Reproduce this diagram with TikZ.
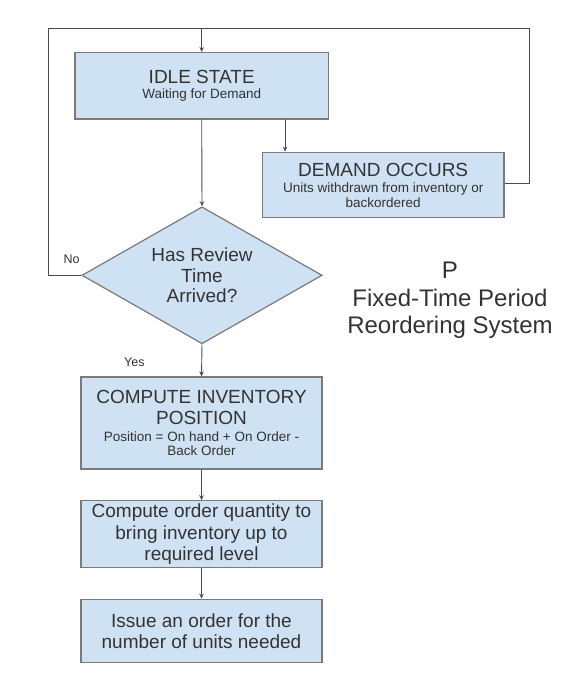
\documentclass[tikz,border=0pt]{standalone}
\usepackage{fontspec}
\setmainfont{Liberation Sans}
\usetikzlibrary{shapes.geometric,arrows.meta}
\definecolor{boxfill}{HTML}{CFE2F3}
\definecolor{boxline}{HTML}{7A7A7A}
\definecolor{lineclr}{HTML}{4D4D4D}
\definecolor{txt}{HTML}{333333}
\newcommand{\fbig}{\fontsize{19}{21.4}\selectfont}
\newcommand{\fsmall}{\fontsize{13.5}{14.5}\selectfont}
\begin{document}
\begin{tikzpicture}[x=1pt,y=-1pt,
  box/.style={draw=boxline, fill=boxfill, line width=1.2pt, rectangle, align=center, text=txt, inner sep=0pt},
  decision/.style={draw=boxline, fill=boxfill, line width=1.2pt, diamond, aspect=1.75, align=center, text=txt, inner sep=0pt},
  arr/.style={draw=lineclr, line width=0.9pt, -{Stealth[length=5pt,width=4.5pt]}},
  conn/.style={draw=lineclr, line width=0.9pt},
  lbl/.style={text=txt, font=\fontsize{12.5}{14}\selectfont, inner sep=0pt}]
\useasboundingbox (0,0) rectangle (582,686);
\fill[white] (0,0) rectangle (582,686);

\node[box, minimum width=253.5pt, minimum height=66.5pt, font=\fontsize{13.5}{15.5}\selectfont] (idle) at (201.7,85.8)
  {{\fbig IDLE STATE}\\{\fsmall Waiting for Demand}};
\node[box, minimum width=241.6pt, minimum height=65.6pt, font=\fsmall] (demand) at (383.2,185)
  {{\fbig DEMAND OCCURS}\\[2pt]{\fsmall Units withdrawn from inventory or}\\{\fsmall backordered}};
\node[decision, minimum width=240.3pt, minimum height=137pt, font=\fontsize{19}{20.8}\selectfont] (review) at (202,275.3)
  {Has Review\\Time\\Arrived?};
\node[box, minimum width=241pt, minimum height=92pt, font=\fsmall] (compute) at (201.5,423)
  {{\fbig COMPUTE INVENTORY}\\[6.9pt]{\fbig POSITION}\\[2.3pt]{\fsmall Position = On hand + On Order -}\\{\fsmall Back Order}};
\node[box, minimum width=241pt, minimum height=67pt, font=\fbig] (order) at (201.5,534.3)
  {Compute order quantity to\\bring inventory up to\\required level};
\node[box, minimum width=241pt, minimum height=63.4pt, font=\fbig] (issue) at (201.5,631)
  {Issue an order for the\\number of units needed};

\node[text=txt, align=center, font=\fontsize{24}{27.3}\selectfont] (title) at (450,300.5)
  {P\\Fixed-Time Period\\Reordering System};

\node[lbl] (no) at (71.6,259) {No};
\node[lbl] (yes) at (134.4,362) {Yes};

\coordinate (top) at (201.7,28.4);
\coordinate (tl) at (48.3,28.4);
\coordinate (tr) at (529,28.4);
\coordinate (dx) at (285,0);
\coordinate (dy) at (0,183.7);

\draw[arr] (demand.east |- dy) -- (tr |- dy) -- (tr) -- (top) -- (idle.north);
\draw[conn] (review.west) -- (tl |- review.west) -- (tl) -- (top);
\draw[arr] (idle.south -| dx) -- (demand.north -| dx);
\draw[arr] (idle.south) -- (review.north);
\draw[arr] (review.south) -- (compute.north);
\draw[arr] (compute.south) -- (order.north);
\draw[arr] (order.south) -- (issue.north);
\end{tikzpicture}
\end{document}
